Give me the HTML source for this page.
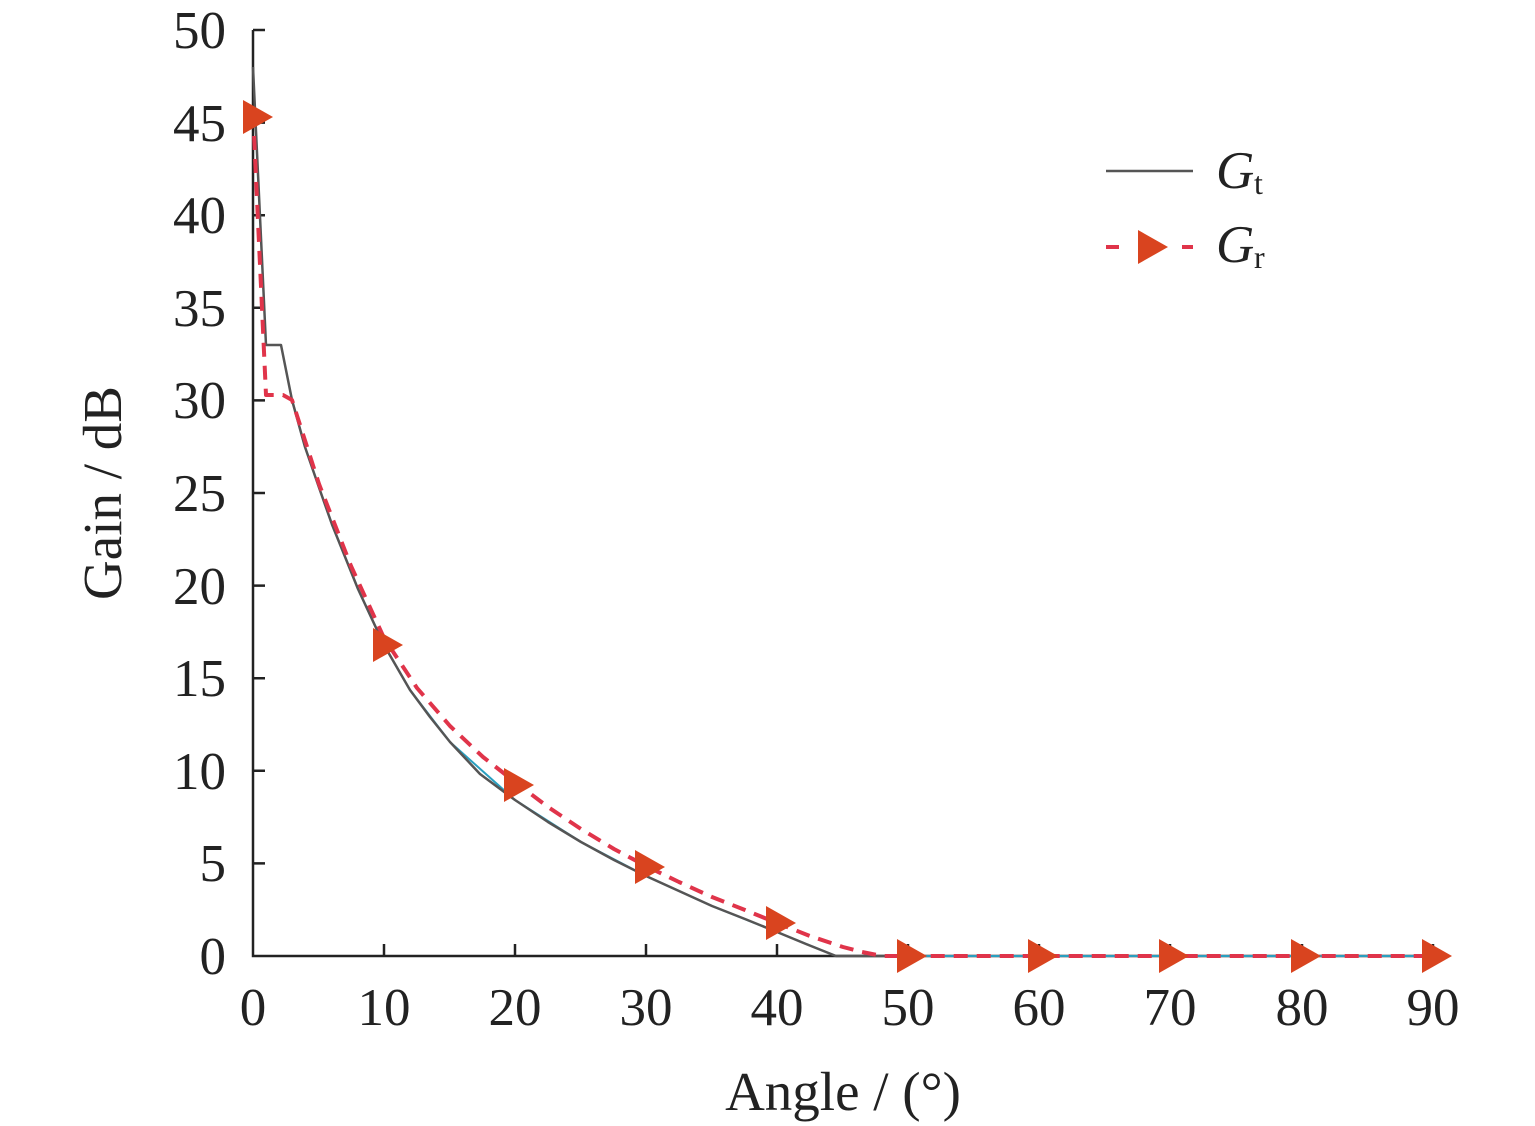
<!DOCTYPE html>
<html><head><style>body{margin:0;background:#fff}svg{display:block}</style></head><body>
<svg width="1535" height="1126" viewBox="0 0 1535 1126" font-family="Liberation Serif, serif" fill="#222">
<rect width="1535" height="1126" fill="#fff"/>
<g stroke="#222" stroke-width="2.5" fill="none">
<path d="M253,30V956H1433"/>
<path d="M253,30h12M253,122.6h12M253,215.2h12M253,307.8h12M253,400.4h12M253,493h12M253,585.6h12M253,678.2h12M253,770.8h12M253,863.4h12"/>
<path d="M384,956v-12M515,956v-12M646,956v-12M777,956v-12M908,956v-12M1039,956v-12M1170,956v-12M1302,956v-12M1433,956v-12"/>
</g>
<g font-size="53" text-anchor="end">
<text x="226" y="48">50</text><text x="226" y="141">45</text><text x="226" y="233">40</text><text x="226" y="326">35</text><text x="226" y="418">30</text><text x="226" y="511">25</text><text x="226" y="604">20</text><text x="226" y="696">15</text><text x="226" y="789">10</text><text x="226" y="881">5</text><text x="226" y="974">0</text>
</g>
<g font-size="53" text-anchor="middle">
<text x="253" y="1025">0</text><text x="384" y="1025">10</text><text x="515" y="1025">20</text><text x="646" y="1025">30</text><text x="777" y="1025">40</text><text x="908" y="1025">50</text><text x="1039" y="1025">60</text><text x="1170" y="1025">70</text><text x="1302" y="1025">80</text><text x="1433" y="1025">90</text>
<text x="843" y="1110" font-size="55">Angle / (°)</text>
<text transform="translate(121,493) rotate(-90)" font-size="55">Gain / dB</text>
</g>
<polyline fill="none" stroke="#2a9fc0" stroke-width="2" points="292,400 305,447 319,487.5 332,524.5 358,589 384,645 410,690 450,742 515,800 581,842 646,876 712,906 777,932 836,956 1433,956"/>
<polyline fill="none" stroke="#555" stroke-width="2.5" stroke-linejoin="round" points="253,67 266,345 281,345 292,400 305,447 319,487.5 332,524.5 358,589 384,645 410,690 430,717 450,742 480,774 515,800 548,822 581,842 614,860 646,876 679,891 712,906 745,919 777,932 806,944 836,956 900,956"/>
<polyline fill="none" stroke="#e0344a" stroke-width="4" stroke-dasharray="14,9" stroke-linejoin="round" points="253,113 266,395 283,395 292,400 319,484 351,566 384,638 417,688 450,726 483,757 515,782 548,807 581,829 614,849 646,866 679,882 712,897 745,910 777,923 810,936 843,947 862,952 882,956 1433,956"/>
<g fill="#d9441f">
<path d="M243,100l30,17l-30,17z"/>
<path d="M373,628l30,17l-30,17z"/>
<path d="M504,768l30,17l-30,17z"/>
<path d="M635,850l30,17l-30,17z"/>
<path d="M766,906l30,17l-30,17z"/>
<path d="M897,939l30,17l-30,17z"/>
<path d="M1028,939l30,17l-30,17z"/>
<path d="M1159,939l30,17l-30,17z"/>
<path d="M1291,939l30,17l-30,17z"/>
<path d="M1422,939l30,17l-30,17z"/>
</g>
<line x1="1106" y1="171" x2="1193" y2="171" stroke="#555" stroke-width="2.5"/>
<line x1="1106" y1="247" x2="1193" y2="247" stroke="#e0344a" stroke-width="4" stroke-dasharray="13,25"/>
<path d="M1138,230l30,17l-30,17z" fill="#d9441f"/>
<text x="1216" y="188" font-size="53" font-style="italic">G</text><text x="1254" y="194" font-size="32">t</text>
<text x="1216" y="262" font-size="53" font-style="italic">G</text><text x="1254" y="268" font-size="32">r</text>
</svg>
</body></html>
